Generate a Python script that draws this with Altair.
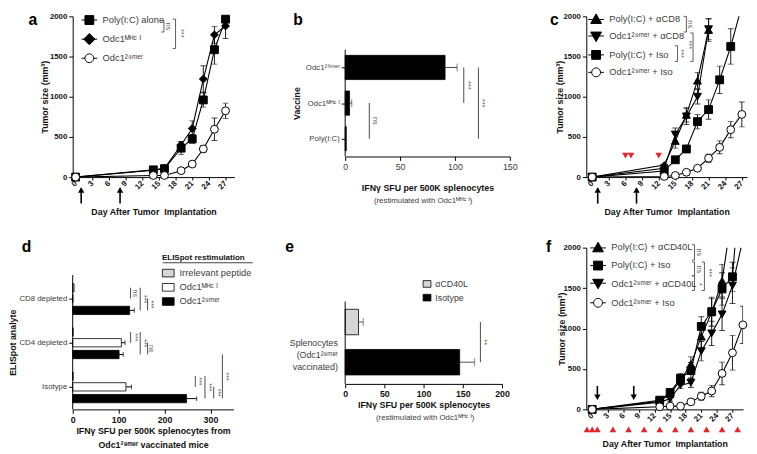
import json
import math
import altair as alt
import pandas as pd

FONT = "Liberation Sans"
INK = "#111111"
SOFT = "#3c3c3c"
SIG = "#5a5a5a"
RED = "#e8232b"
LIGHT = "#d6d6d6"

SUP29 = "\u00b2\u2079\u1d50\u1d49\u02b3"
SUPMHC = "\u1d39\u1d34\u1d9c \u1d35"
ODC29 = "Odc1" + SUP29
ODCMHC = "Odc1" + SUPMHC
XTITLE_DAYS = "Day After Tumor\u00a0 Implantation"
YTITLE_TUMOR = "Tumor size  (mm\u00b3)"
SFU_TITLE = "IFN\u03b3 SFU per 500K splenocytes"
RESTIM_NOTE = "(restimulated with " + ODCMHC + ")"

# ---------------- panel a : tumour growth ----------------
a_series = ["Poly(I:C) alone", ODCMHC, ODC29]
a_days = [0, 14, 16, 19, 21, 23, 25, 27]
a_poly = [0, 90, 105, 360, 475, 960, 1585, 1965]
a_poly_err = [0, 15, 20, 80, 55, 90, 180, 30]
a_mhc = [0, 85, 110, 400, 605, 1220, 1770, 1880]
a_mhc_err = [0, 15, 20, 40, 95, 165, 105, 155]
a_29 = [0, 20, 20, 80, 162, 350, 595, 825]
a_29_err = [0, 5, 5, 12, 15, 45, 140, 95]

# ---------------- panel b : ELISpot by vaccine ----------------
b_vaccines = [ODC29, ODCMHC, "Poly(I:C)"]
b_sfu = [91, 4, 1]
b_err = [11, 2, 0]

# ---------------- panel c : CD8 depletion ----------------
c_series = ["Poly(I:C) + \u03b1CD8", ODC29 + " + \u03b1CD8", "Poly(I:C) + Iso", ODC29 + " + Iso"]
c_days_cd8 = [0, 13, 15, 17, 19, 21]
c_poly_cd8 = [0, 150, 450, 775, 1200, 1830]
c_poly_cd8_err = [0, 20, 90, 90, 100, 140]
c_odc_cd8 = [0, 110, 530, 755, 1000, 1840]
c_odc_cd8_err = [0, 15, 80, 100, 90, 130]
c_days_iso = [0, 13, 15, 17, 19, 21, 23, 25, 27]
c_poly_iso = [0, 75, 215, 350, 690, 840, 1210, 1625, 2130]
c_poly_iso_err = [0, 10, 30, 40, 90, 120, 170, 220, 0]
c_odc_iso = [0, 8, 20, 60, 110, 235, 370, 590, 780]
c_odc_iso_err = [0, 3, 5, 10, 15, 50, 80, 100, 155]
c_treat_days = [6, 7, 12]
vacc_days = [1, 8]

# ---------------- panel d : ELISpot after depletion ----------------
d_analytes = ["CD8 depleted", "CD4 depleted", "Isotype"]
d_restim = ["Irrelevant peptide", ODCMHC, ODC29]
d_irr = [3, 1, 1]
d_irr_err = [0, 0, 0]
d_mhc = [0.5, 106, 116]
d_mhc_err = [0, 8, 12]
d_29 = [124, 101, 248]
d_29_err = [10, 9, 22]

# ---------------- panel e : CD40L blockade ELISpot ----------------
e_groups = ["\u03b1CD40L", "Isotype"]
e_sfu = [17, 146]
e_err = [6, 19]
e_label = ["Splenocytes", "(" + ODC29, "vaccinated)"]

# ---------------- panel f : CD40L blockade growth ----------------
f_series = ["Poly(I:C) + \u03b1CD40L", "Poly(I:C) + Iso", ODC29 + " + \u03b1CD40L", ODC29 + " + Iso"]
f_days_short = [0, 13, 15, 17, 19, 21, 23, 25, 27]
f_days = [0, 13, 15, 17, 19, 21, 23, 25, 27, 29]
f_poly_cd40 = [0, 100, 190, 360, 560, 900, 1200, 1590, 2450]
f_poly_cd40_err = [0, 15, 40, 60, 90, 150, 170, 200, 0]
f_poly_iso = [0, 114, 210, 385, 480, 1026, 1209, 1490, 1640, 3200]
f_poly_iso_err = [0, 15, 40, 60, 100, 120, 180, 200, 180, 0]
f_odc_cd40 = [0, 90, 130, 300, 330, 720, 940, 1175, 1530, 2100]
f_odc_cd40_err = [0, 10, 30, 40, 60, 120, 150, 200, 220, 0]
f_odc_iso = [0, 32, 40, 40, 93, 162, 227, 445, 700, 1045]
f_odc_iso_err = [0, 5, 8, 8, 20, 50, 70, 140, 215, 230]
f_treat_days = [-1, 0, 1, 4, 7, 10, 13, 16, 19, 22, 25, 28]

# ---------------- annotations (data units of each panel) ----------------
a_sig = [("ns", 15.9, 1945, 1805, 16.7, 1875), ("***", 18.0, 1965, 1600, 18.9, 1790)]
c_sig = [("ns", 17.0, 2000, 1805, 17.7, 1902), ("***", 15.4, 1634, 1439, 16.1, 1537),
         ("***", 18.2, 1793, 1439, 17.5, 1646)]
f_sig = [("ns", 19.7, 2036, 1846, 20.6, 1943), ("ns", 19.7, 1822, 1652, 20.6, 1733),
         ("*", 19.7, 1652, 1470, 20.5, 1545), ("***", 21.6, 1822, 1470, 22.5, 1690)]
b_sig = [("ns", 22, 1, 2, 27.5), ("***", 108, 0, 1, 111.5), ("***", 121.4, 0, 2, 124.8)]
d_sig = [("ns", 126, (0, 0), (0, 1), 134.5), ("***", 147, (0, 0), (0, 2), 155.5),
         ("***", 163, (0, 1), (0, 2), 171.5), ("***", 126, (1, 0), (1, 1), 134.5),
         ("***", 147, (1, 0), (1, 2), 155.5), ("ns", 163, (1, 1), (1, 2), 171.5),
         ("***", 267, (2, 0), (2, 1), 275.5), ("***", 288, (2, 0), (2, 2), 296.5),
         ("***", 307, (2, 1), (2, 2), 315.5), ("***", 326, (1, 2), (2, 2), 334.5)]
e_sig = [("**", 172.5, 0, 1, 176.5)]
# panel letters: text, x, y (baseline) in each panel's data units
a_letter = ("a", -8.47, 1890)
b_letter = ("b", -47.3, -0.688)
c_letter = ("c", -7.60, 1890)
d_letter = ("d", -111, -0.533)
e_letter = ("e", -76.3, -1.243)
f_letter = ("f", -8.87, 1951)


def _circle_path():
    pts = [(0.9 * math.cos(2 * math.pi * k / 20), 0.9 * math.sin(2 * math.pi * k / 20))
           for k in range(20)]
    return "M-1.6,0H-0.9M0.9,0H1.6M" + "L".join("%.3f,%.3f" % p for p in pts) + "Z"


LEG_PATHS = {
    "square": "M-1.6,0H1.6M-0.9,-0.9H0.9V0.9H-0.9Z",
    "diamond": "M-1.6,0H1.6M0,-1.15L1.15,0L0,1.15L-1.15,0Z",
    "circle": _circle_path(),
    "triangle-up": "M-1.6,0.1H1.6M0,-1.05L1.1,0.9H-1.1Z",
    "triangle-down": "M-1.6,-0.1H1.6M0,1.05L1.1,-0.9H-1.1Z",
}


def letter_layer(spec, X, Y):
    t, x, y = spec
    df = pd.DataFrame({"lx": [x], "ly": [y], "lt": [t]})
    return alt.Chart(df).mark_text(font=FONT, fontSize=16, fontWeight="bold", color="black",
                                   align="left", baseline="alphabetic").encode(
        x=X("lx"), y=Y("ly"), text="lt:N")


def spacer(w, h=1):
    return alt.Chart(pd.DataFrame({"v": [0]})).mark_point(size=0, opacity=0).encode(
        x=alt.X("v:Q", axis=None), y=alt.Y("v:Q", axis=None)).properties(width=w, height=h)


def growth_df(series, days, vals, errs):
    rows = []
    for s, ds, vs, es in zip(series, days, vals, errs):
        for d, v, e in zip(ds, vs, es):
            rows.append({"series": s, "day": d, "val": v, "err": e, "lo": v - e, "hi": v + e})
    return pd.DataFrame(rows)


def growth_panel(df, series, shapes, fills, xdom, w, h, ytx, leg, sig, letter,
                 treat=None, treat_shape=None, treat_val=None, arrow=None):
    xs = alt.Scale(domain=xdom, nice=False, zero=False)
    ys = alt.Scale(domain=[0, 2000], nice=False, zero=False)
    xax = alt.Axis(values=list(range(0, 28, 3)), labelAngle=-45, labelAlign="right",
                   labelBaseline="middle", labelFontSize=8, labelFontWeight="bold",
                   labelColor=INK, labelPadding=2, labelFlush=False, labelOverlap=False,
                   tickSize=3, title=XTITLE_DAYS, titleFontSize=9, titleFontWeight="bold",
                   titleColor=INK, titleY=38, titleBaseline="alphabetic")
    yax = alt.Axis(values=[0, 500, 1000, 1500, 2000], format="d", labelFontSize=8,
                   labelFontWeight="bold", labelColor=INK, labelPadding=2, tickSize=4,
                   labelFlush=False, title=YTITLE_TUMOR, titleFontSize=9,
                   titleFontWeight="bold", titleColor=INK, titleX=ytx, titleY=h / 2,
                   titleBaseline="middle")

    def X(f):
        return alt.X(f, type="quantitative", scale=xs, axis=xax)

    def Y(f):
        return alt.Y(f, type="quantitative", scale=ys, axis=yax)

    layers = []
    base = alt.Chart(df)
    layers.append(base.mark_line(color="black", strokeWidth=1.1, clip=True).encode(
        x=X("day"), y=Y("val"), detail="series:N", order="day:Q"))
    err = alt.Chart(df[df.err > 0])
    layers.append(err.mark_rule(color="black", strokeWidth=0.9, clip=True).encode(
        x=X("day"), y=Y("lo"), y2=alt.Y2("hi")))
    for end in ("hi", "lo"):
        layers.append(err.mark_tick(orient="horizontal", size=6, thickness=0.9, color="black",
                                    clip=True).encode(x=X("day"), y=Y(end)))
    vis = alt.Chart(df[df.val <= 2000])
    layers.append(vis.mark_point(filled=True, size=64, stroke="black", strokeWidth=1,
                                 opacity=1).encode(
        x=X("day"), y=Y("val"),
        shape=alt.Shape("series:N", scale=alt.Scale(domain=series, range=shapes), legend=None),
        fill=alt.Fill("series:N", scale=alt.Scale(domain=series, range=fills), legend=None)))
    lg = alt.Legend(title=None, orient="none", legendX=leg[0], legendY=leg[1], padding=0,
                    rowPadding=leg[2], labelFont=FONT, labelFontSize=9.5, labelColor=SOFT,
                    labelOffset=8, symbolStrokeColor="black", symbolStrokeWidth=1,
                    labelLimit=220)
    layers.append(base.transform_filter("false").mark_point(
        filled=True, size=81, stroke="black", strokeWidth=1, opacity=1).encode(
        x=X("day"), y=Y("val"),
        shape=alt.Shape("series:N", scale=alt.Scale(domain=series,
                                                    range=[LEG_PATHS[s] for s in shapes]),
                        legend=lg),
        fill=alt.Fill("series:N", scale=alt.Scale(domain=series, range=fills), legend=lg),
        stroke=alt.Stroke("series:N", scale=alt.Scale(domain=series,
                                                      range=["black"] * len(series)),
                          legend=lg)))
    sdf = pd.DataFrame(sig, columns=["label", "x", "y1", "y2", "tx", "ty"])
    sdf["x0"] = sdf["x"] - 0.5
    sb = alt.Chart(sdf)
    layers.append(sb.mark_rule(color=SIG, strokeWidth=1).encode(x=X("x"), y=Y("y1"), y2=alt.Y2("y2")))
    for end in ("y1", "y2"):
        layers.append(sb.mark_rule(color=SIG, strokeWidth=1).encode(
            x=X("x0"), x2=alt.X2("x"), y=Y(end)))
    layers.append(sb.mark_text(angle=90, font=FONT, fontSize=7.5, color=SIG, align="center",
                               baseline="middle").encode(x=X("tx"), y=Y("ty"), text="label:N"))
    if treat is not None:
        tdf = pd.DataFrame({"day": treat, "v": [treat_val] * len(treat)})
        layers.append(alt.Chart(tdf).mark_point(shape=treat_shape, filled=True, color=RED,
                                                size=45, opacity=1).encode(x=X("day"), y=Y("v")))
    if arrow is not None:
        days, top, bot, head, hshape = arrow
        adf = pd.DataFrame({"day": days, "top": [top] * len(days), "bot": [bot] * len(days),
                            "head": [head] * len(days)})
        ach = alt.Chart(adf)
        layers.append(ach.mark_rule(color="black", strokeWidth=1.6).encode(
            x=X("day"), y=Y("top"), y2=alt.Y2("bot")))
        layers.append(ach.mark_point(shape=hshape, filled=True, color="black", size=42,
                                     opacity=1).encode(x=X("day"), y=Y("head")))
    layers.append(letter_layer(letter, X, Y))
    return alt.layer(*layers).resolve_scale(shape="independent", fill="independent",
                                            stroke="independent").properties(width=w, height=h)


def sig_rule_layers(sdf, X, Y, size=7.5):
    sb = alt.Chart(sdf)
    return [
        sb.mark_rule(color=SIG, strokeWidth=1.1).encode(x=X("x"), y=Y("y1"), y2=alt.Y2("y2")),
        sb.mark_text(angle=90, font=FONT, fontSize=size, color=SIG, align="center",
                     baseline="middle").encode(x=X("tx"), y=Y("ty"), text="label:N"),
    ]


def axis_line(X, Y, span):
    df = pd.DataFrame({"zero": [0], "y0": [0], "y1": [span]})
    return alt.Chart(df).mark_rule(color="black", strokeWidth=1).encode(
        x=X("zero"), y=Y("y0"), y2=alt.Y2("y1"))


# ---------------- panel a ----------------
a_df = growth_df(a_series, [a_days] * 3, [a_poly, a_mhc, a_29], [a_poly_err, a_mhc_err, a_29_err])
panel_a = growth_panel(a_df, a_series, ["square", "diamond", "circle"], ["black", "black", "white"],
                       [-0.53, 28.6], 165, 164, -29, (11.5, -1.75, 4.5), a_sig, a_letter,
                       arrow=(vacc_days, -140, -330, -160, "triangle-up"))

# ---------------- panel c ----------------
c_df = growth_df(c_series, [c_days_cd8, c_days_cd8, c_days_iso, c_days_iso],
                 [c_poly_cd8, c_odc_cd8, c_poly_iso, c_odc_iso],
                 [c_poly_cd8_err, c_odc_cd8_err, c_poly_iso_err, c_odc_iso_err])
panel_c = growth_panel(c_df, c_series, ["triangle-up", "triangle-down", "square", "circle"],
                       ["black", "black", "black", "white"], [-1.06, 27.94], 164, 164, -27,
                       (4.5, -2.75, 4.8), c_sig, c_letter,
                       treat=c_treat_days, treat_shape="triangle-down", treat_val=268,
                       arrow=(vacc_days, -140, -330, -160, "triangle-up"))

# ---------------- panel f ----------------
f_df = growth_df(f_series, [f_days_short, f_days, f_days, f_days],
                 [f_poly_cd40, f_poly_iso, f_odc_cd40, f_odc_iso],
                 [f_poly_cd40_err, f_poly_iso_err, f_odc_cd40_err, f_odc_iso_err])
panel_f = growth_panel(f_df, f_series, ["triangle-up", "square", "triangle-down", "circle"],
                       ["black", "black", "black", "white"], [-1.13, 29.05], 160, 165, -25.5,
                       (6.5, -5.75, 5.5), f_sig, f_letter,
                       treat=f_treat_days, treat_shape="triangle-up", treat_val=-248,
                       arrow=(vacc_days, 290, 160, 150, "triangle-down"))

# ---------------- panel b ----------------
B_HALF = 0.34
B_N = len(b_vaccines)
b_df = pd.DataFrame({"vaccine": b_vaccines, "val": b_sfu, "err": b_err})
b_df["yc"] = [i + 0.5 for i in range(B_N)]
b_df["y0"] = b_df.yc - B_HALF
b_df["y1"] = b_df.yc + B_HALF
b_df["zero"] = 0
b_df["hi"] = b_df.val + b_df.err
bxs = alt.Scale(domain=[0, 150], nice=False, zero=False)
bys = alt.Scale(domain=[-0.936, 3.578], nice=False, zero=False, reverse=True)
b_xax = alt.Axis(values=[0, 50, 100, 150], labelFontSize=9, labelColor=SOFT, labelFlush=False,
                 tickSize=4, labelPadding=2, offset=-21, title=SFU_TITLE, titleFontSize=9,
                 titleFontWeight="bold", titleColor=INK, titleY=35, titleBaseline="alphabetic")
b_yax = alt.Axis(values=list(b_df.yc), labelExpr=json.dumps(b_vaccines, ensure_ascii=False)
                 + "[floor(datum.value)]", labelFontSize=8, labelColor=SOFT, tickSize=4,
                 labelPadding=2, domain=False, title="Vaccine", titleX=-49.3, titleY=88.5,
                 titleBaseline="middle", titleFontSize=9, titleFontWeight="bold", titleColor=INK)
bX = lambda f: alt.X(f, type="quantitative", scale=bxs, axis=b_xax)
bY = lambda f: alt.Y(f, type="quantitative", scale=bys, axis=b_yax)
b_layers = [alt.Chart(b_df).mark_rect(color="black", stroke="black", strokeWidth=0.8).encode(
    x=bX("zero"), x2=alt.X2("val"), y=bY("y0"), y2=alt.Y2("y1"))]
b_layers.append(axis_line(bX, bY, B_N))
b_e = alt.Chart(b_df[b_df.err > 0])
b_layers.append(b_e.mark_rule(color="#444", strokeWidth=1).encode(x=bX("val"), x2=alt.X2("hi"), y=bY("yc")))
b_layers.append(b_e.mark_tick(orient="vertical", size=8, thickness=1, color="#444").encode(x=bX("hi"), y=bY("yc")))
bs = pd.DataFrame([{"label": l, "x": x, "y1": b_df.yc[i], "y2": b_df.yc[j], "tx": tx,
                    "ty": (b_df.yc[i] + b_df.yc[j]) / 2} for l, x, i, j, tx in b_sig])
b_layers += sig_rule_layers(bs, bX, bY)
b_note = pd.DataFrame({"x": [71], "y": [B_N + 1.24], "t": [RESTIM_NOTE]})
b_layers.append(alt.Chart(b_note).mark_text(font=FONT, fontSize=8, color=SOFT, align="center",
                                            baseline="middle").encode(x=bX("x"), y=bY("y"), text="t:N"))
b_layers.append(letter_layer(b_letter, bX, bY))
panel_b = alt.layer(*b_layers).properties(width=168, height=164)

# ---------------- panel d ----------------
D_FIRST = 0.533
D_OFFSETS = [-0.244, 0.0, 0.267]
D_HALF = 0.094
D_SPAN = 3.044
d_vals = [d_irr, d_mhc, d_29]
d_errs = [d_irr_err, d_mhc_err, d_29_err]
rows = []
for i, an in enumerate(d_analytes):
    for j, rs in enumerate(d_restim):
        yc = D_FIRST + i + D_OFFSETS[j]
        rows.append({"analyte": an, "restim": rs, "val": d_vals[j][i], "err": d_errs[j][i],
                     "hi": d_vals[j][i] + d_errs[j][i], "yc": yc, "y0": yc - D_HALF,
                     "y1": yc + D_HALF, "zero": 0})
d_df = pd.DataFrame(rows)
dxs = alt.Scale(domain=[0, 350], nice=False, zero=False)
dys = alt.Scale(domain=[-0.622, D_SPAN], nice=False, zero=False, reverse=True)
d_xax = alt.Axis(values=[0, 100, 200, 300], labelFontSize=9, labelFontWeight="bold",
                 labelColor=INK, labelFlush=False, tickSize=4, labelPadding=2,
                 title=[SFU_TITLE + " from", ODC29 + " vaccinated mice"], titleFontSize=9,
                 titleFontWeight="bold", titleColor=INK, titleY=25, titleLineHeight=14,
                 titleBaseline="alphabetic")
d_yax = alt.Axis(values=[D_FIRST + i for i in range(len(d_analytes))],
                 labelExpr=json.dumps(d_analytes) + "[floor(datum.value)]", labelFontSize=8,
                 labelColor=SOFT, tickSize=4, labelPadding=2, domain=False,
                 title="ELISpot analyte", titleX=-61.5, titleY=96.5, titleBaseline="middle",
                 titleFontSize=9, titleFontWeight="bold", titleColor=INK)
dX = lambda f: alt.X(f, type="quantitative", scale=dxs, axis=d_xax)
dY = lambda f: alt.Y(f, type="quantitative", scale=dys, axis=d_yax)
d_leg = alt.Legend(title="ELISpot restimulation", orient="none", legendX=91, legendY=6.75,
                   padding=0, titleFont=FONT, titleFontSize=8.2, titleFontWeight="bold",
                   titleColor=INK, titlePadding=4.5, labelFont=FONT, labelFontSize=9.5,
                   labelColor=SOFT, labelOffset=5, rowPadding=2.5,
                   symbolType="M-1,-0.65H1V0.65H-1Z", symbolSize=144,
                   symbolStrokeColor="black", symbolStrokeWidth=0.8, labelLimit=200)
d_layers = [alt.Chart(d_df).mark_rect(stroke="black", strokeWidth=0.8).encode(
    x=dX("zero"), x2=alt.X2("val"), y=dY("y0"), y2=alt.Y2("y1"),
    fill=alt.Fill("restim:N", scale=alt.Scale(domain=d_restim, range=[LIGHT, "white", "black"]),
                  legend=d_leg))]
d_layers.append(axis_line(dX, dY, D_SPAN))
d_e = alt.Chart(d_df[d_df.err > 0])
d_layers.append(d_e.mark_rule(color="black", strokeWidth=1).encode(x=dX("val"), x2=alt.X2("hi"), y=dY("yc")))
d_layers.append(d_e.mark_tick(orient="vertical", size=5, thickness=1, color="black").encode(x=dX("hi"), y=dY("yc")))
pos = lambda ij: D_FIRST + ij[0] + D_OFFSETS[ij[1]]
ds = pd.DataFrame([{"label": l, "x": x, "y1": pos(p), "y2": pos(q), "tx": tx,
                    "ty": (pos(p) + pos(q)) / 2} for l, x, p, q, tx in d_sig])
d_layers += sig_rule_layers(ds, dX, dY, size=7)
d_ul = pd.DataFrame({"x": [196], "x2": [392], "y": [-0.28]})
d_layers.append(alt.Chart(d_ul).mark_rule(color=INK, strokeWidth=0.8).encode(
    x=dX("x"), x2=alt.X2("x2"), y=dY("y")))
d_layers.append(letter_layer(d_letter, dX, dY))
panel_d = alt.layer(*d_layers).properties(width=164, height=165)

# ---------------- panel e ----------------
E_FIRST = 0.51
E_HALF = 0.317
E_SPAN = 2.05
e_df = pd.DataFrame({"group": e_groups, "val": e_sfu, "err": e_err})
e_df["yc"] = [E_FIRST + i for i in range(len(e_groups))]
e_df["y0"] = e_df.yc - E_HALF
e_df["y1"] = e_df.yc + E_HALF
e_df["zero"] = 0
e_df["hi"] = e_df.val + e_df.err
exs = alt.Scale(domain=[0, 200], nice=False, zero=False)
eys = alt.Scale(domain=[-1.341, 2.684], nice=False, zero=False, reverse=True)
e_xax = alt.Axis(values=[0, 50, 100, 150, 200], labelFontSize=9, labelFontWeight="bold",
                 labelColor=INK, labelFlush=False, tickSize=4, labelPadding=2, offset=-26,
                 title=SFU_TITLE, titleFontSize=9, titleFontWeight="bold", titleColor=INK,
                 titleY=24.5, titleBaseline="alphabetic")
e_yax = alt.Axis(values=[float(e_df.yc.mean())], labelExpr=json.dumps(e_label, ensure_ascii=False),
                 ticks=False, labelPadding=8, labelFontSize=9, labelLineHeight=12.5,
                 labelColor=SOFT, domain=False, title=None)
eX = lambda f: alt.X(f, type="quantitative", scale=exs, axis=e_xax)
eY = lambda f: alt.Y(f, type="quantitative", scale=eys, axis=e_yax)
e_leg = alt.Legend(title=None, orient="none", legendX=79, legendY=32.5, padding=0,
                   labelFont=FONT, labelFontSize=9, labelColor=SOFT, labelOffset=4, rowPadding=3,
                   symbolType="M-1,-0.85H1V0.85H-1Z", symbolSize=64, symbolStrokeColor="black",
                   symbolStrokeWidth=0.8)
e_layers = [alt.Chart(e_df).mark_rect(stroke="black", strokeWidth=0.8).encode(
    x=eX("zero"), x2=alt.X2("val"), y=eY("y0"), y2=alt.Y2("y1"),
    fill=alt.Fill("group:N", scale=alt.Scale(domain=e_groups, range=[LIGHT, "black"]), legend=e_leg))]
e_layers.append(axis_line(eX, eY, E_SPAN))
e_e = alt.Chart(e_df)
e_layers.append(e_e.mark_rule(color="#555", strokeWidth=1).encode(x=eX("val"), x2=alt.X2("hi"), y=eY("yc")))
e_layers.append(e_e.mark_tick(orient="vertical", size=8, thickness=1, color="#555").encode(x=eX("hi"), y=eY("yc")))
es = pd.DataFrame([{"label": l, "x": x, "y1": e_df.yc[i], "y2": e_df.yc[j], "tx": tx,
                    "ty": (e_df.yc[i] + e_df.yc[j]) / 2} for l, x, i, j, tx in e_sig])
e_layers += sig_rule_layers(es, eX, eY)
e_note = pd.DataFrame({"x": [102], "y": [E_SPAN + 0.846], "t": [RESTIM_NOTE]})
e_layers.append(alt.Chart(e_note).mark_text(font=FONT, fontSize=8, color=SOFT, align="center",
                                            baseline="middle").encode(x=eX("x"), y=eY("y"), text="t:N"))
e_layers.append(letter_layer(e_letter, eX, eY))
panel_e = alt.layer(*e_layers).properties(width=160, height=165)

# ---------------- layout: flow grid of leaf views ----------------
chart = alt.concat(
    spacer(1), panel_a, spacer(111), panel_b, spacer(73), panel_c,
    spacer(8), panel_d, spacer(113), panel_e, spacer(78), panel_f,
    columns=6, spacing={"row": 72, "column": 0}, bounds="flush", align="none",
).resolve_scale(fill="independent", shape="independent", stroke="independent").properties(
    padding=0).configure_view(stroke=None).configure_axis(
    grid=False, domainColor="black", tickColor="black", domainWidth=1, tickWidth=1,
    labelFont=FONT, titleFont=FONT).configure_legend(labelFont=FONT, titleFont=FONT)

chart.save("out.html", embed_options={"renderer": "svg", "actions": False})
